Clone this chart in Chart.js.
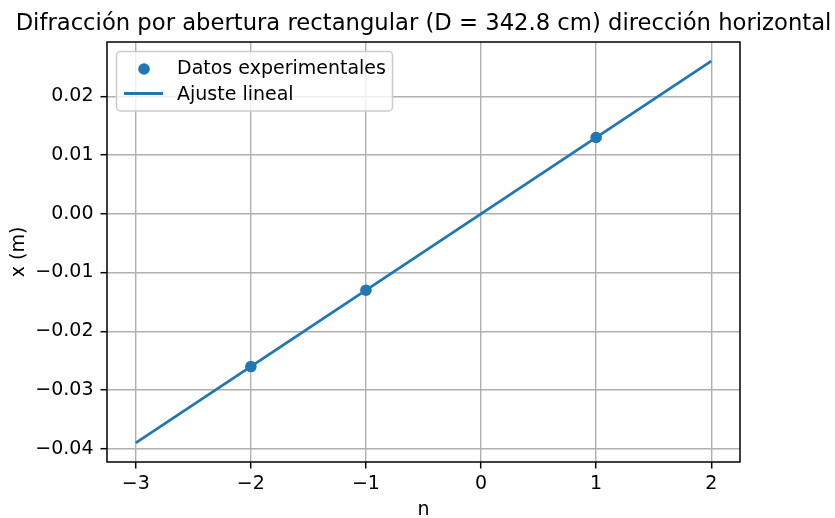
<!DOCTYPE html>
<html>
<head>
<meta charset="utf-8">
<script src="https://cdn.jsdelivr.net/npm/chart.js@4.4.1/dist/chart.umd.min.js"></script>
<style>
  html, body { margin: 0; padding: 0; background: #fff; }
  canvas { display: block; }
</style>
</head>
<body>
<canvas id="chart" width="835" height="518"></canvas>
<script>
const titleText = 'Difracción por abertura rectangular (D = 342.8 cm) dirección horizontal';
const xLabel = 'n';
const yLabel = 'x (m)';
const legendLabels = ['Datos experimentales', 'Ajuste lineal'];

// measured points
const nValues = [-2, -1, 1];
const xValues = [-0.026, -0.013, 0.013];

// linear fit, drawn from n = -3 to n = 2
const fitN = [-3, 2];
const fitX = [-0.039, 0.026];

// tick labels
const xTicks = [-3, -2, -1, 0, 1, 2];
const yTicks = [-0.04, -0.03, -0.02, -0.01, 0.00, 0.01, 0.02];

const blue = '#1f77b4';
const font = 'DejaVu Sans';
const minus = v => (v < 0 ? '\u2212' : '') + Math.abs(v);

// title, axis labels, spines and legend (matplotlib look)
const decor = {
  id: 'decor',
  afterDraw(chart) {
    const ctx = chart.ctx;
    const a = chart.chartArea;
    ctx.save();

    ctx.strokeStyle = '#000';
    ctx.lineWidth = 1.5;
    ctx.strokeRect(a.left, a.top, a.right - a.left, a.bottom - a.top);

    ctx.fillStyle = '#000';
    ctx.textAlign = 'center';
    ctx.textBaseline = 'alphabetic';
    ctx.font = `22.7px "${font}"`;
    ctx.fillText(titleText, (a.left + a.right) / 2, 29.5);

    ctx.font = `19px "${font}"`;
    ctx.fillText(xLabel, (a.left + a.right) / 2, 514.5);

    ctx.save();
    ctx.translate(19, (a.top + a.bottom) / 2);
    ctx.rotate(-Math.PI / 2);
    ctx.textBaseline = 'middle';
    ctx.fillText(yLabel, 0, 0);
    ctx.restore();

    // legend box
    const bx = 116.5, by = 51.5, bw = 276, bh = 59.5, r = 4;
    ctx.beginPath();
    ctx.roundRect(bx, by, bw, bh, r);
    ctx.fillStyle = 'rgba(255,255,255,0.8)';
    ctx.fill();
    ctx.strokeStyle = '#cccccc';
    ctx.lineWidth = 1.5;
    ctx.stroke();

    ctx.fillStyle = blue;
    ctx.beginPath();
    ctx.arc(144, 69, 5.8, 0, Math.PI * 2);
    ctx.fill();

    ctx.strokeStyle = blue;
    ctx.lineWidth = 2.8;
    ctx.beginPath();
    ctx.moveTo(124, 93.5);
    ctx.lineTo(163, 93.5);
    ctx.stroke();

    ctx.fillStyle = '#000';
    ctx.textAlign = 'left';
    ctx.textBaseline = 'alphabetic';
    ctx.fillText(legendLabels[0], 177, 74.3);
    ctx.fillText(legendLabels[1], 177, 100.3);

    ctx.restore();
  }
};

new Chart(document.getElementById('chart'), {
  type: 'scatter',
  data: {
    datasets: [
      {
        label: legendLabels[0],
        data: nValues.map((n, i) => ({ x: n, y: xValues[i] })),
        backgroundColor: blue,
        borderWidth: 0,
        pointRadius: 5.8,
        pointHoverRadius: 5.8,
        order: 2
      },
      {
        label: legendLabels[1],
        data: fitN.map((n, i) => ({ x: n, y: fitX[i] })),
        showLine: true,
        borderColor: blue,
        borderWidth: 2.8,
        pointRadius: 0,
        fill: false,
        order: 1
      }
    ]
  },
  options: {
    responsive: false,
    animation: false,
    layout: { padding: { left: 0, right: 95, top: 42, bottom: 0 } },
    plugins: {
      legend: { display: false },
      tooltip: { enabled: false },
      title: { display: false }
    },
    scales: {
      x: {
        type: 'linear',
        min: -3.25,
        max: 2.25,
        afterBuildTicks: s => { s.ticks = xTicks.map(v => ({ value: v })); },
        afterFit: s => { s.height = 56; },
        grid: { color: '#b0b0b0', lineWidth: 1.4, tickColor: '#000', tickLength: 6.5, tickWidth: 1.5 },
        border: { display: false },
        ticks: {
          color: '#000',
          padding: 4.5,
          maxRotation: 0,
          font: { family: font, size: 19 },
          callback: v => minus(v)
        }
      },
      y: {
        type: 'linear',
        min: -0.04225,
        max: 0.02925,
        afterBuildTicks: s => { s.ticks = yTicks.map(v => ({ value: v })); },
        afterFit: s => { s.width = 107; },
        grid: { color: '#b0b0b0', lineWidth: 1.4, tickColor: '#000', tickLength: 6.5, tickWidth: 1.5 },
        border: { display: false },
        ticks: {
          color: '#000',
          padding: 7,
          font: { family: font, size: 19 },
          callback: v => (v < 0 ? '\u2212' : '') + Math.abs(v).toFixed(2)
        }
      }
    }
  },
  plugins: [decor]
});
</script>
</body>
</html>
